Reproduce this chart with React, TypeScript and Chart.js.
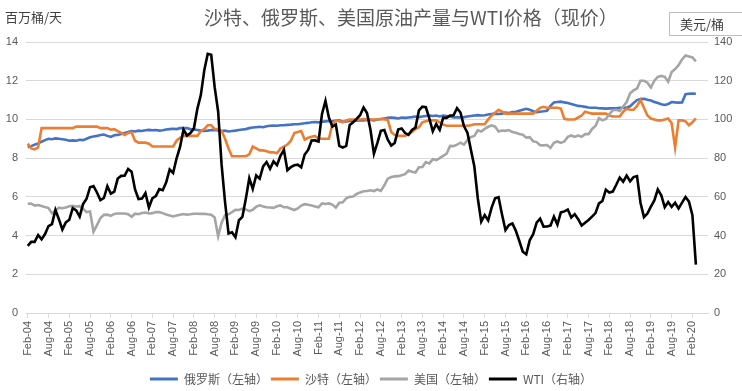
import React, { useEffect, useRef } from 'react';
import { Chart, registerables } from 'chart.js';

Chart.register(...registerables);

document.body.style.margin = '0';

const FONT = '"Liberation Sans", "Noto Sans CJK SC", sans-serif';
const CJK = '"Noto Sans CJK SC", "Liberation Sans", sans-serif';

const TITLE = '沙特、俄罗斯、美国原油产量与WTI价格（现价）';
const LEFT_UNIT = '百万桶/天';
const RIGHT_UNIT = '美元/桶';

const MONTHS = ['Jan', 'Feb', 'Mar', 'Apr', 'May', 'Jun', 'Jul', 'Aug', 'Sep', 'Oct', 'Nov', 'Dec'];
// Monthly categories Feb-04 .. Jun-20 (axis extends past the last data point)
const CATEGORIES: string[] = [];
for (let y = 2004; y <= 2020; y++) {
  for (let m = 0; m < 12; m++) {
    if (y === 2004 && m < 1) continue;
    if (y === 2020 && m > 5) break;
    CATEGORIES.push(`${MONTHS[m]}-${String(y % 100).padStart(2, '0')}`);
  }
}

const SERIES_NAMES = ['俄罗斯（左轴）', '沙特（左轴）', '美国（左轴）', 'WTI（右轴）'];

// Russia crude production, million b/d (Feb-04 ..)
const RUSSIA = [
  8.56, 8.62, 8.7, 8.76, 8.85, 8.93, 9.0, 8.98, 9.02, 9.0, 8.98,
  8.95, 8.9, 8.92, 8.9, 8.95, 8.93, 9.0, 9.08, 9.12, 9.15, 9.2, 9.22,
  9.15, 9.1, 9.18, 9.2, 9.25, 9.3, 9.35, 9.4, 9.38, 9.42, 9.4, 9.44,
  9.46, 9.44, 9.45, 9.42, 9.44, 9.48, 9.5, 9.52, 9.5, 9.55, 9.56, 9.55,
  9.5, 9.48, 9.45, 9.42, 9.4, 9.42, 9.45, 9.45, 9.43, 9.4, 9.42, 9.38,
  9.4, 9.42, 9.45, 9.48, 9.5, 9.55, 9.58, 9.6, 9.62, 9.6, 9.65, 9.67,
  9.68, 9.67, 9.7, 9.7, 9.72, 9.73, 9.75, 9.75, 9.78, 9.8, 9.82, 9.85,
  9.87, 9.85, 9.88, 9.9, 9.92, 9.9, 9.93, 9.95, 9.88, 9.9, 9.92, 9.95,
  9.93, 9.95, 9.95, 9.97, 9.98, 9.95, 10.0, 10.02, 10.05, 10.08, 10.1, 10.08,
  10.05, 10.1, 10.08, 10.1, 10.12, 10.15, 10.12, 10.15, 10.18, 10.2, 10.18, 10.2,
  10.15, 10.2, 10.18, 10.15, 10.1, 10.12, 10.1, 10.12, 10.15, 10.18, 10.2, 10.22,
  10.2, 10.22, 10.25, 10.28, 10.3, 10.28, 10.3, 10.35, 10.33, 10.38, 10.4, 10.45,
  10.5, 10.55, 10.5, 10.42, 10.38, 10.4, 10.42, 10.45, 10.7, 10.88, 10.9, 10.92,
  10.88, 10.85, 10.8, 10.75, 10.7, 10.68, 10.65, 10.62, 10.6, 10.6, 10.58, 10.57,
  10.56, 10.57, 10.57, 10.58, 10.6, 10.6, 10.62, 10.68, 10.85, 11.0, 11.05, 11.07,
  11.02, 10.98, 10.9, 10.85, 10.78, 10.75, 10.8, 10.9, 10.88, 10.87, 10.88, 11.3,
  11.33, 11.34, 11.33,
];

// Saudi crude production, million b/d (Feb-04 ..)
const SAUDI = [
  8.75, 8.5, 8.45, 8.55, 9.55, 9.55, 9.55, 9.55, 9.55, 9.55, 9.55,
  9.55, 9.55, 9.55, 9.63, 9.63, 9.63, 9.63, 9.63, 9.63, 9.63, 9.55, 9.55,
  9.55, 9.47, 9.5, 9.4, 9.3, 9.2, 9.3, 9.34, 8.9, 8.8, 8.8, 8.8,
  8.75, 8.6, 8.6, 8.6, 8.6, 8.6, 8.6, 8.6, 8.9, 9.05, 9.15, 9.15,
  9.15, 9.15, 9.15, 9.4, 9.5, 9.7, 9.7, 9.5, 9.5, 9.4, 9.0, 8.5,
  8.1, 8.1, 8.1, 8.1, 8.1, 8.2, 8.6, 8.5, 8.4, 8.4, 8.35, 8.3,
  8.3, 8.25, 8.5, 8.6, 8.7, 8.9, 9.3, 9.35, 9.4, 8.95, 9.05, 9.1,
  9.15, 9.0, 9.0, 9.0, 9.0, 9.75, 9.95, 9.9, 9.85, 9.95, 10.0, 10.0,
  10.0, 10.0, 10.02, 10.0, 10.0, 10.0, 10.0, 10.02, 10.0, 9.98, 9.35, 9.2,
  9.15, 9.15, 9.15, 9.25, 9.35, 9.5, 9.6, 9.85, 9.9, 9.95, 9.95, 9.95,
  9.85, 9.73, 9.67, 9.67, 9.67, 9.67, 9.67, 9.67, 9.67, 9.7, 9.75, 9.75,
  9.75, 9.75, 10.0, 10.2, 10.35, 10.5, 10.4, 10.3, 10.3, 10.3, 10.3, 10.3,
  10.3, 10.3, 10.3, 10.3, 10.45, 10.6, 10.65, 10.6, 10.6, 10.6, 10.6, 10.56,
  10.03, 10.0, 10.0, 10.0, 10.1, 10.2, 10.4, 10.35, 10.3, 10.3, 10.3, 10.3,
  10.3, 10.2, 10.15, 10.15, 10.15, 10.4, 10.55, 10.5, 10.5, 10.7, 11.0, 10.6,
  10.2, 10.05, 10.0, 9.95, 9.95, 10.0, 10.05, 9.8, 8.55, 9.95, 9.95, 9.9,
  9.7, 9.85, 10.05,
];

// US crude production, million b/d (Feb-04 ..)
const USA = [
  5.64, 5.65, 5.55, 5.58, 5.53, 5.47, 5.42, 5.15, 5.3, 5.44, 5.41,
  5.45, 5.51, 5.54, 5.5, 5.52, 5.39, 5.21, 5.24, 4.2, 4.54, 4.9, 5.07,
  5.08, 5.02, 5.12, 5.14, 5.14, 5.14, 5.1, 4.97, 5.13, 5.1, 5.17, 5.19,
  5.14, 5.16, 5.22, 5.21, 5.16, 5.09, 5.04, 4.99, 5.04, 5.08, 5.11, 5.08,
  5.1, 5.13, 5.13, 5.12, 5.13, 5.1, 5.08, 4.93, 3.97, 4.66, 5.06, 5.1,
  5.21, 5.33, 5.32, 5.39, 5.35, 5.26, 5.33, 5.49, 5.56, 5.5, 5.46, 5.45,
  5.43, 5.51, 5.56, 5.46, 5.46, 5.39, 5.32, 5.4, 5.55, 5.62, 5.59, 5.55,
  5.5, 5.46, 5.66, 5.63, 5.66, 5.6, 5.45, 5.7, 5.72, 5.92, 6.0, 6.02,
  6.15, 6.23, 6.29, 6.3, 6.34, 6.3, 6.38, 6.31, 6.6, 6.94, 7.02, 7.06,
  7.07, 7.12, 7.17, 7.36, 7.3, 7.26, 7.53, 7.54, 7.8, 7.73, 7.94, 7.9,
  8.0, 8.12, 8.23, 8.63, 8.62, 8.7, 8.8, 8.7, 8.93, 9.09, 9.15, 9.44,
  9.38, 9.51, 9.62, 9.69, 9.63, 9.38, 9.43, 9.41, 9.45, 9.35, 9.31, 9.25,
  9.21, 9.06, 9.08, 8.87, 8.83, 8.67, 8.66, 8.68, 8.53, 8.79, 8.86, 8.79,
  8.86, 9.1, 9.17, 9.1, 9.17, 9.1, 9.24, 9.24, 9.51, 9.66, 10.07, 9.95,
  10.02, 10.27, 10.47, 10.5, 10.44, 10.67, 10.9, 11.35, 11.5, 11.6, 12.0, 12.0,
  11.9, 11.65, 12.0, 12.2, 12.25, 12.2, 11.95, 12.45, 12.6, 12.8, 13.1, 13.3,
  13.25, 13.2, 13.0,
];

// WTI spot price, USD/bbl (Feb-04 ..)
const WTI = [
  34.69, 36.74, 36.75, 40.28, 38.03, 40.78, 44.9, 45.94, 53.28, 48.47, 43.15,
  46.84, 48.15, 54.19, 52.98, 49.83, 56.35, 59.0, 64.99, 65.59, 62.26, 58.32, 59.41,
  65.49, 61.63, 62.69, 69.44, 70.84, 70.95, 74.41, 73.04, 63.8, 58.89, 59.08, 61.96,
  54.51, 59.28, 60.44, 63.98, 63.45, 67.49, 74.12, 72.36, 79.92, 85.8, 94.77, 91.69,
  92.97, 95.39, 105.45, 112.58, 125.4, 133.88, 133.37, 116.67, 104.11, 76.61, 57.31, 41.12,
  41.71, 39.09, 47.94, 49.65, 59.03, 69.64, 64.15, 71.05, 69.41, 75.72, 77.99, 74.47,
  78.33, 76.39, 81.2, 84.29, 73.74, 75.34, 76.32, 76.6, 75.24, 81.89, 84.25, 89.15,
  89.17, 88.58, 102.86, 109.53, 100.9, 96.26, 97.3, 86.33, 85.52, 86.32, 97.16, 98.56,
  100.27, 102.2, 106.16, 103.32, 94.66, 82.3, 87.9, 94.13, 94.51, 89.49, 86.53, 87.86,
  94.76, 95.31, 92.94, 92.02, 94.51, 95.77, 104.67, 106.57, 106.29, 100.54, 93.86, 97.63,
  94.62, 100.82, 100.8, 102.07, 102.18, 105.79, 103.59, 96.54, 93.21, 84.4, 75.79, 59.29,
  47.22, 50.58, 47.82, 54.45, 59.27, 59.82, 50.9, 42.87, 45.48, 46.22, 42.44, 37.19,
  31.68, 30.32, 37.55, 40.75, 46.71, 48.76, 44.65, 44.72, 45.18, 49.78, 45.66, 51.97,
  52.5, 53.47, 49.33, 51.06, 48.48, 45.18, 46.63, 48.04, 49.82, 51.58, 56.64, 57.88,
  63.7, 62.23, 62.73, 66.25, 69.98, 67.87, 70.98, 68.06, 70.23, 70.75, 56.96, 49.52,
  51.38, 54.95, 58.15, 63.86, 60.83, 54.66, 57.35, 54.81, 56.95, 53.96, 57.03, 59.88,
  57.52, 50.54, 25.0,
];

const COLORS = ['#4472C4', '#ED7D31', '#A5A5A5', '#000000'];

export default function App() {
  const canvasRef = useRef<HTMLCanvasElement | null>(null);

  useEffect(() => {
    if (!canvasRef.current) return;
    const seriesData = [RUSSIA, SAUDI, USA, WTI];
    const axes = ['y', 'y', 'y', 'y1'];
    const orders = [3, 2, 1, 0];
    const chart = new Chart(canvasRef.current, {
      type: 'line',
      data: {
        labels: CATEGORIES,
        datasets: seriesData.map((d, i) => ({
          label: SERIES_NAMES[i],
          data: d,
          borderColor: COLORS[i],
          backgroundColor: COLORS[i],
          borderWidth: 2.6,
          pointRadius: 0,
          tension: 0,
          yAxisID: axes[i],
          order: orders[i],
        })),
      },
      options: {
        responsive: false,
        animation: false,
        events: [],
        layout: { padding: { top: 42, left: 0, right: 0, bottom: -4 } },
        plugins: {
          title: { display: false },
          tooltip: { enabled: false },
          legend: {
            position: 'bottom',
            labels: {
              boxWidth: 28,
              boxHeight: 3,
              padding: 3,
              color: '#595959',
              font: { size: 12, family: CJK },
              sort: (a: any, b: any) => a.datasetIndex - b.datasetIndex,
              generateLabels: (c: any) =>
                Chart.defaults.plugins.legend.labels
                  .generateLabels(c)
                  .map((l: any) => ({ ...l, lineWidth: 0, fillStyle: COLORS[l.datasetIndex] })),
            },
          },
        },
        scales: {
          x: {
            type: 'category',
            offset: true,
            grid: { drawOnChartArea: false, drawTicks: true, tickLength: 5, color: '#d9d9d9', offset: false },
            border: { color: '#d9d9d9' },
            ticks: {
              autoSkip: false,
              maxRotation: 90,
              minRotation: 90,
              padding: 3,
              color: '#595959',
              font: { size: 11, family: FONT },
              callback: (_v: any, i: number) => (i % 6 === 0 ? CATEGORIES[i] : null),
            },
            afterFit: (s: any) => {
              s.height = 57;
            },
          },
          y: {
            position: 'left',
            min: 0,
            max: 14,
            ticks: { stepSize: 2, padding: 8, color: '#595959', font: { size: 11, family: FONT } },
            grid: { color: '#d9d9d9', drawTicks: false },
            border: { display: false },
            afterFit: (s: any) => {
              s.width = 26;
            },
          },
          y1: {
            position: 'right',
            min: 0,
            max: 140,
            ticks: { stepSize: 20, padding: 6, color: '#595959', font: { size: 11, family: FONT } },
            grid: { drawOnChartArea: false, drawTicks: false },
            border: { display: false },
            afterFit: (s: any) => {
              s.width = 34;
            },
          },
        },
      },
    } as any);
    return () => chart.destroy();
  }, []);

  return (
    <div style={{ position: 'relative', width: 742, height: 391, background: '#fff', overflow: 'hidden' }}>
      <canvas ref={canvasRef} width={742} height={391} style={{ position: 'absolute', left: 0, top: 0 }} />
      <div
        style={{
          position: 'absolute',
          left: 5,
          top: 8,
          fontFamily: CJK,
          fontSize: 13,
          lineHeight: '18px',
          color: '#404040',
        }}
      >
        {LEFT_UNIT}
      </div>
      <div
        style={{
          position: 'absolute',
          left: 204,
          top: 4,
          fontFamily: CJK,
          fontSize: 19,
          lineHeight: '26px',
          color: '#595959',
          whiteSpace: 'nowrap',
        }}
      >
        {TITLE}
      </div>
      <div
        style={{
          position: 'absolute',
          left: 669,
          top: 12,
          width: 80,
          height: 24,
          border: '1px solid #bfbfbf',
          boxSizing: 'border-box',
          fontFamily: CJK,
          fontSize: 13,
          lineHeight: '22px',
          paddingLeft: 10,
          color: '#404040',
          background: '#fff',
        }}
      >
        {RIGHT_UNIT}
      </div>
    </div>
  );
}
